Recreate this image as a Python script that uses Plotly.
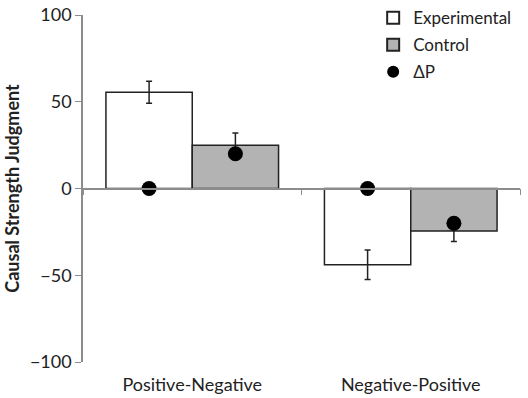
import plotly.graph_objects as go

categories = ["Positive-Negative", "Negative-Positive"]
experimental = [55.5, -44]
experimental_err = [6.3, 8.5]
control = [25, -24.5]
control_err = [7, 6]
delta_p_exp = [0, 0]
delta_p_ctrl = [20, -20]

FONT = "Lato, Open Sans, sans-serif"

fig = go.Figure()
fig.add_trace(go.Bar(
    x=categories, y=experimental, name="Experimental", offsetgroup="exp", legendgroup="a",
    marker=dict(color="white", line=dict(color="#222", width=1.5)),
    error_y=dict(type="data", array=experimental_err, color="#222", thickness=1.5, width=3),
))
fig.add_trace(go.Bar(
    x=categories, y=control, name="Control", offsetgroup="ctrl", legendgroup="b",
    marker=dict(color="#b3b3b3", line=dict(color="#222", width=1.5)),
    error_y=dict(type="data", array=control_err, color="#222", thickness=1.5, width=3),
))
fig.add_trace(go.Scatter(
    x=categories, y=delta_p_exp, mode="markers", name="\u0394P", offsetgroup="exp", legendgroup="c",
    marker=dict(color="black", size=15), showlegend=True,
))
fig.add_trace(go.Scatter(
    x=categories, y=delta_p_ctrl, mode="markers", name="\u0394P", offsetgroup="ctrl", legendgroup="c",
    marker=dict(color="black", size=15), showlegend=False,
))
# helper trace for the zero-level axis with boundary ticks
fig.add_trace(go.Scatter(x=categories, y=[None, None], xaxis="x2", showlegend=False, hoverinfo="skip"))

fig.update_layout(
    width=528, height=398,
    margin=dict(l=83, r=8, t=15, b=36, autoexpand=False),
    plot_bgcolor="white", paper_bgcolor="white",
    barmode="group", bargap=0.21, bargroupgap=0,
    scattermode="group",
    font=dict(family=FONT, size=18, color="#222"),
    showlegend=True,
    legend=dict(x=0.664, xanchor="left", y=1.043, yanchor="top",
                font=dict(family=FONT, size=17, color="#222"),
                itemsizing="constant", tracegroupgap=2, itemwidth=30,
                bgcolor="rgba(0,0,0,0)"),
    xaxis=dict(range=[-0.5, 1.5], showline=False, ticks="", showgrid=False,
               tickfont=dict(size=18), ticklabelstandoff=10),
    xaxis2=dict(overlaying="x", matches="x", anchor="free", position=0.5,
                showline=True, linecolor="#8c8c8c", linewidth=1.5,
                ticks="outside", tickson="boundaries", ticklen=6, tickcolor="#8c8c8c",
                showticklabels=False, showgrid=False, range=[-0.5, 1.5]),
    yaxis=dict(range=[-100, 100], tickvals=[-100, -50, 0, 50, 100],
               showline=True, linecolor="#8c8c8c", linewidth=1.5,
               ticks="outside", ticklen=6, tickcolor="#8c8c8c",
               showgrid=False, zeroline=False, tickfont=dict(size=18),
               ticklabeloverflow="allow",
               title=dict(text="<b>Causal Strength Judgment</b>", font=dict(size=18), standoff=6)),
)

fig.write_html("out.html", config={"displayModeBar": False},
               post_script="document.body.style.margin='0';")
